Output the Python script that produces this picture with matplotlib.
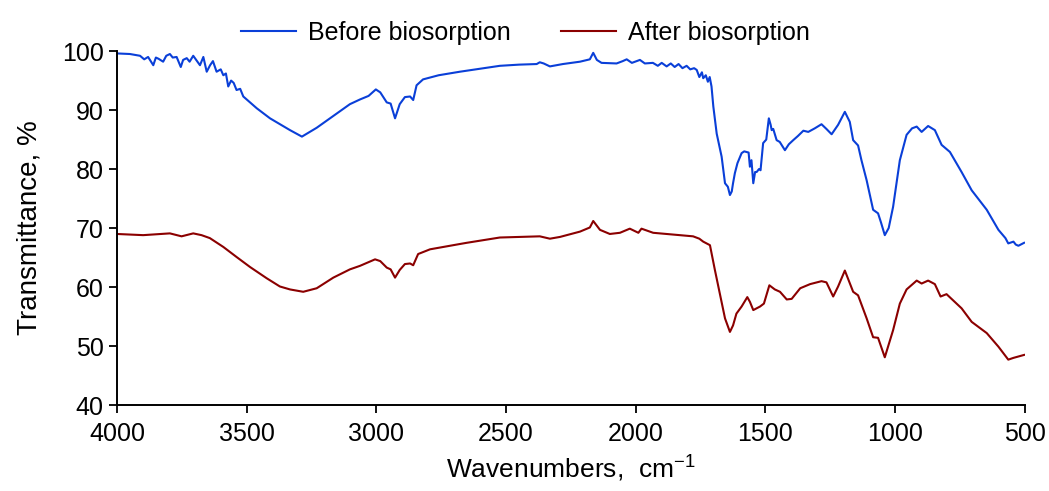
import numpy as np
import matplotlib
matplotlib.use("Agg")
import matplotlib.pyplot as plt

plt.rcParams['font.family'] = ['Liberation Sans', 'DejaVu Sans']
plt.rcParams['mathtext.fontset'] = 'custom'
plt.rcParams['mathtext.rm'] = 'Liberation Sans'
plt.rcParams['mathtext.it'] = 'Liberation Sans'

# spectrum before biosorption (wavenumber, transmittance)
wn_before = [4000, 3950, 3911, 3895, 3880, 3860, 3850, 3840, 3822, 3810, 3796, 3785,
             3770, 3754, 3745, 3731, 3720, 3706, 3693, 3680, 3667, 3654, 3641, 3630,
             3616, 3600, 3590, 3580, 3571, 3560, 3550, 3539, 3525, 3513, 3461, 3410,
             3333, 3287, 3230, 3166, 3102, 3063, 3030, 3002, 2985, 2960, 2945, 2928,
             2910, 2890, 2870, 2858, 2845, 2820, 2760, 2678, 2600, 2524, 2450, 2382,
             2370, 2355, 2331, 2281, 2215, 2177, 2164, 2150, 2132, 2074, 2050, 2035,
             2015, 1984, 1965, 1934, 1915, 1900, 1881, 1865, 1850, 1835, 1820, 1804,
             1790, 1775, 1765, 1755, 1745, 1740, 1730, 1722, 1715, 1708, 1701, 1688,
             1669, 1656, 1645, 1637, 1630, 1625, 1618, 1608, 1592, 1582, 1573, 1565,
             1560, 1554, 1547, 1540, 1534, 1525, 1519, 1509, 1497, 1487, 1480, 1476,
             1470, 1457, 1445, 1425, 1410, 1393, 1375, 1354, 1335, 1310, 1284, 1265,
             1245, 1220, 1194, 1175, 1162, 1143, 1130, 1110, 1085, 1066, 1055, 1040,
             1025, 1008, 982, 956, 935, 917, 898, 873, 847, 821, 789, 744, 705, 647,
             602, 575, 564, 544, 535, 525, 503]
tr_before = [99.6, 99.5, 99.2, 98.6, 99.0, 97.6, 98.9, 98.7, 98.2, 99.2, 99.5, 98.9,
             99.0, 97.3, 98.5, 98.8, 98.2, 99.2, 98.4, 97.6, 99.0, 96.5, 97.6, 98.3,
             96.5, 96.9, 95.9, 96.2, 94.0, 95.0, 94.6, 93.4, 93.6, 92.3, 90.3, 88.6,
             86.6, 85.5, 87.0, 89.0, 91.0, 91.8, 92.4, 93.5, 93.0, 91.3, 91.1, 88.6,
             91.0, 92.2, 92.3, 91.7, 94.2, 95.2, 95.9, 96.5, 97.0, 97.5, 97.7, 97.8,
             98.1, 97.9, 97.4, 97.8, 98.2, 98.6, 99.7, 98.5, 98.0, 97.9, 98.3, 98.6,
             98.0, 98.5, 97.9, 98.0, 97.5, 98.0, 97.4, 97.9, 97.3, 97.8, 97.1, 97.5,
             96.9, 97.1, 96.8, 95.6, 96.4, 95.4, 95.9, 94.8, 95.6, 94.0, 90.6, 86.0,
             82.1, 77.6, 77.0, 75.6, 76.2, 77.6, 79.3, 81.0, 82.7, 83.0, 82.9, 82.8,
             80.4, 81.5, 77.6, 79.5, 79.5, 80.0, 79.8, 84.4, 85.0, 88.6, 87.5, 86.6,
             86.8, 84.9, 84.6, 83.2, 84.2, 84.9, 85.6, 86.5, 86.3, 86.9, 87.6, 86.8,
             85.9, 87.5, 89.7, 88.0, 84.9, 84.0, 81.5, 78.1, 73.1, 72.5, 71.0, 68.8,
             70.0, 73.6, 81.5, 85.8, 86.9, 87.2, 86.3, 87.3, 86.6, 84.1, 82.9, 79.5,
             76.4, 73.1, 69.7, 68.3, 67.4, 67.7, 67.2, 67.0, 67.5]

# spectrum after biosorption
wn_after = [4000, 3899, 3796, 3751, 3706, 3674, 3642, 3590, 3539, 3487, 3423, 3372,
            3333, 3282, 3230, 3166, 3102, 3063, 3005, 2985, 2960, 2945, 2928, 2910,
            2890, 2870, 2858, 2839, 2793, 2678, 2652, 2524, 2370, 2331, 2292, 2215,
            2177, 2164, 2138, 2100, 2061, 2023, 1990, 1978, 1933, 1779, 1755, 1740,
            1714, 1695, 1676, 1656, 1637, 1625, 1612, 1592, 1570, 1560, 1547, 1521,
            1506, 1485, 1464, 1444, 1418, 1399, 1366, 1328, 1284, 1265, 1239, 1220,
            1194, 1162, 1143, 1110, 1085, 1066, 1040, 1008, 982, 956, 917, 898, 873,
            847, 825, 802, 744, 705, 647, 602, 564, 544, 503]
tr_after = [69.0, 68.8, 69.1, 68.6, 69.1, 68.8, 68.3, 66.8, 65.1, 63.4, 61.5, 60.1,
            59.6, 59.2, 59.8, 61.6, 63.0, 63.6, 64.7, 64.4, 63.3, 63.0, 61.6, 62.9,
            63.9, 64.0, 63.7, 65.6, 66.4, 67.3, 67.5, 68.4, 68.6, 68.2, 68.5, 69.4,
            70.1, 71.2, 69.7, 69.0, 69.2, 69.9, 69.2, 69.9, 69.2, 68.6, 68.2, 67.7,
            67.1, 62.9, 58.9, 54.7, 52.4, 53.5, 55.5, 56.7, 58.3, 57.5, 56.1, 56.7,
            57.2, 60.3, 59.6, 59.2, 57.9, 58.0, 59.8, 60.5, 61.0, 60.8, 58.4, 60.1,
            62.8, 59.2, 58.6, 54.7, 51.5, 51.4, 48.1, 52.7, 57.2, 59.6, 61.1, 60.6,
            61.1, 60.5, 58.4, 58.8, 56.4, 54.1, 52.2, 49.9, 47.7, 48.0, 48.5]

fig, ax = plt.subplots(figsize=(10.49, 4.91), dpi=100)
fig.subplots_adjust(left=0.1115, right=0.977, bottom=0.175, top=0.896)

ax.plot(wn_before, tr_before, color='#0a3fd8', lw=1.5, label='Before biosorption')
ax.plot(wn_after, tr_after, color='#8b0000', lw=1.5, label='After biosorption')

ax.set_xlim(4000, 500)
ax.set_ylim(40, 100)
ax.set_xticks(np.arange(4000, 499, -500))
ax.set_yticks(np.arange(40, 101, 10))
ax.tick_params(direction='out', length=6, width=1.3, labelsize=18, colors='black')
ax.tick_params(axis='x', pad=6)
for s in ['top', 'right']:
    ax.spines[s].set_visible(False)
for s in ['left', 'bottom']:
    ax.spines[s].set_linewidth(1.4)

ax.set_xlabel(r'Wavenumbers,  cm$^{-1}$', fontsize=19, labelpad=6)
ax.set_ylabel('Transmittance, %', fontsize=20, labelpad=14)

ax.legend(loc='lower center', bbox_to_anchor=(0.45, 0.99), ncol=2, frameon=False,
          fontsize=18, handlelength=2.2, handletextpad=0.5, columnspacing=2.0,
          borderaxespad=0.0)

fig.savefig('out.png', dpi=100)
